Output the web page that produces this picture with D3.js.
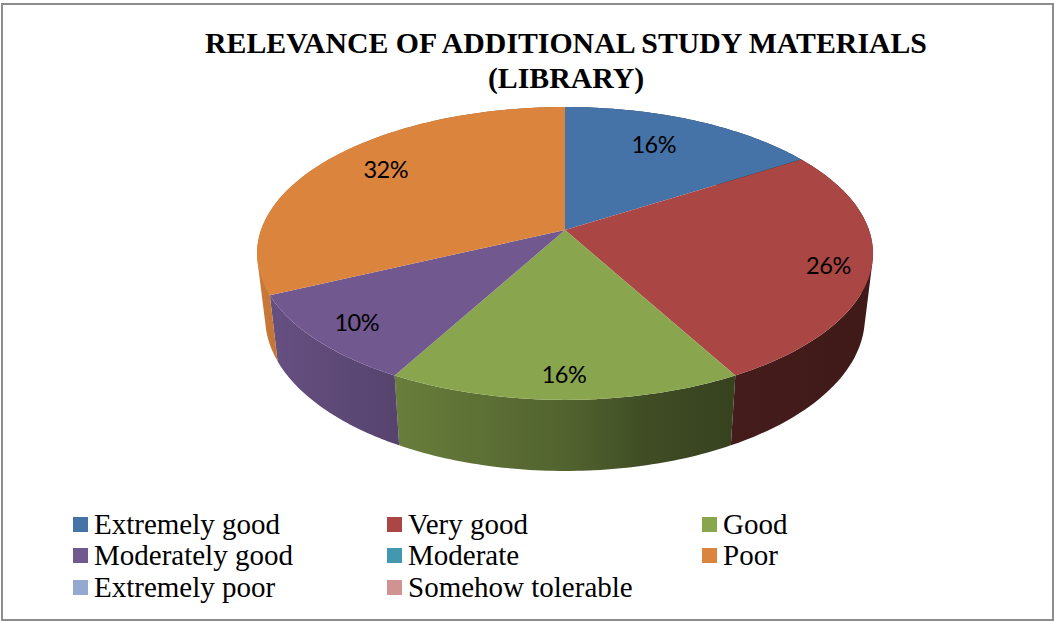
<html>
    <head>
        <meta charset="utf-8">
        <title>Relevance of additional study materials</title>
        <style>
        body { margin: 0; background: #fff; }
        .title { font: bold 29.8px "Liberation Serif", serif; text-anchor: middle; fill: #000; }
        .legend text { font: 29px "Liberation Serif", serif; fill: #000; }
        .label { font: 23.5px Lato, sans-serif; letter-spacing: -0.5px; text-anchor: middle; fill: #000; }
        </style>
    </head>
    <body>
        <script src="https://d3js.org/d3.v7.min.js"></script>
        <script>
            // values
            var categories = ["Extremely good", "Very good", "Good", "Moderately good",
                "Moderate", "Poor", "Extremely poor", "Somehow tolerable"];
            var percents = [16, 26, 16, 10, 0, 32, 0, 0];
            var colors = ["#4572a7", "#aa4643", "#89a54e", "#71588f",
                "#4198af", "#db843d", "#93a9cf", "#d19392"];
            var titleLines = ["RELEVANCE OF ADDITIONAL STUDY MATERIALS", "(LIBRARY)"];

            var width = 1054, height = 621;

            var svg = d3.select("body").append("svg")
                .attr("width", width)
                .attr("height", height);

            svg.append("rect")
                .attr("x", 2).attr("y", 4)
                .attr("width", width - 3).attr("height", height - 5)
                .attr("fill", "#fff")
                .attr("stroke", "#8c8c8c")
                .attr("stroke-width", 2);

            // title
            svg.selectAll(".title").data(titleLines).enter().append("text")
                .attr("class", "title")
                .attr("x", 566)
                .attr("y", function(d, i) { return 53 + i * 35; })
                .text(function(d) { return d; });

            // the pie is a disc seen in perspective, k is the foreshortening
            var cx = 565, k = 0.16;
            var topDisc = {y0: 230, a: 304, b: 142.7};
            var bottomDisc = {y0: 293, a: 296, b: 149.5};

            function project(disc, angle, r) {
                var u = Math.sin(angle) * r, v = Math.cos(angle) * r;
                var w = 1 + k * v;
                return [cx + disc.a * u / w, disc.y0 - disc.b * v / w];
            }

            function arcPoints(disc, start, end) {
                return d3.range(0, 61).map(function(i) {
                    return project(disc, start + (end - start) * i / 60, 1);
                });
            }

            var line = d3.line();

            var pie = d3.pie().sort(null).value(function(d) { return d; });
            var slices = pie(percents).map(function(d, i) {
                d.color = colors[i];
                return d;
            }).filter(function(d) { return d.value > 0; });

            // side walls get darker from left to right
            var shade = d3.scaleLinear()
                .domain([257, 400, 565, 650, 730, 873])
                .range([0.92, 0.76, 0.6, 0.46, 0.4, 0.37]);

            var defs = svg.append("defs");
            slices.forEach(function(d) {
                var grad = defs.append("linearGradient")
                    .attr("id", "side" + d.index)
                    .attr("gradientUnits", "userSpaceOnUse")
                    .attr("x1", 257).attr("x2", 873)
                    .attr("y1", 0).attr("y2", 0);
                shade.domain().forEach(function(x) {
                    var c = d3.rgb(d.color), f = shade(x);
                    grad.append("stop")
                        .attr("offset", (x - 257) / (873 - 257))
                        .attr("stop-color", d3.rgb(c.r * f, c.g * f, c.b * f).formatHex());
                });
            });

            // side walls first, the top faces cover whatever is at the back
            // each wall is a strip of small quads so the silhouette stays filled
            svg.append("g").selectAll("path").data(slices).enter().append("path")
                .attr("fill", function(d) { return "url(#side" + d.index + ")"; })
                .attr("d", function(d) {
                    var upper = arcPoints(topDisc, d.startAngle, d.endAngle);
                    var lower = arcPoints(bottomDisc, d.startAngle, d.endAngle);
                    return d3.range(0, 60).map(function(i) {
                        var p = [upper[i], upper[i + 1], lower[i + 1], lower[i]];
                        if (d3.polygonArea(p) < 0) p.reverse();
                        return line(p) + "Z";
                    }).join("");
                });

            svg.append("g").selectAll("path").data(slices).enter().append("path")
                .attr("fill", function(d) { return d.color; })
                .attr("d", function(d) {
                    var pts = arcPoints(topDisc, d.startAngle, d.endAngle);
                    pts.push([cx, topDisc.y0]);
                    return line(pts) + "Z";
                });

            // data labels, nudged by hand from the slice's mid line
            var labelNudge = {0: [-7, -3], 1: [17, 6], 2: [-1, 1], 3: [-2, 2], 5: [1, -7]};

            svg.append("g").selectAll("text").data(slices).enter().append("text")
                .attr("class", "label")
                .attr("dy", "0.35em")
                .attr("transform", function(d) {
                    var mid = (d.startAngle + d.endAngle) / 2;
                    var r = 0.79 - 0.08 * Math.cos(mid);
                    var p = project(topDisc, mid, r), n = labelNudge[d.index];
                    return "translate(" + (p[0] + n[0]) + "," + (p[1] + n[1]) + ")";
                })
                .text(function(d) { return d.value + "%"; });

            // legend, three to a row
            var legendX = d3.scaleOrdinal().domain([0, 1, 2]).range([73, 387, 702]);
            var legendY = d3.scaleOrdinal().domain([0, 1, 2]).range([517, 548, 580]);

            var legend = svg.append("g").attr("class", "legend")
                .selectAll("g").data(categories).enter().append("g")
                .attr("transform", function(d, i) {
                    return "translate(" + legendX(i % 3) + "," + legendY(Math.floor(i / 3)) + ")";
                });

            legend.append("rect")
                .attr("width", 15).attr("height", 15)
                .attr("fill", function(d, i) { return colors[i]; });

            legend.append("text")
                .attr("x", 21).attr("y", 17)
                .text(function(d) { return d; });
        </script>
    </body>
</html>
